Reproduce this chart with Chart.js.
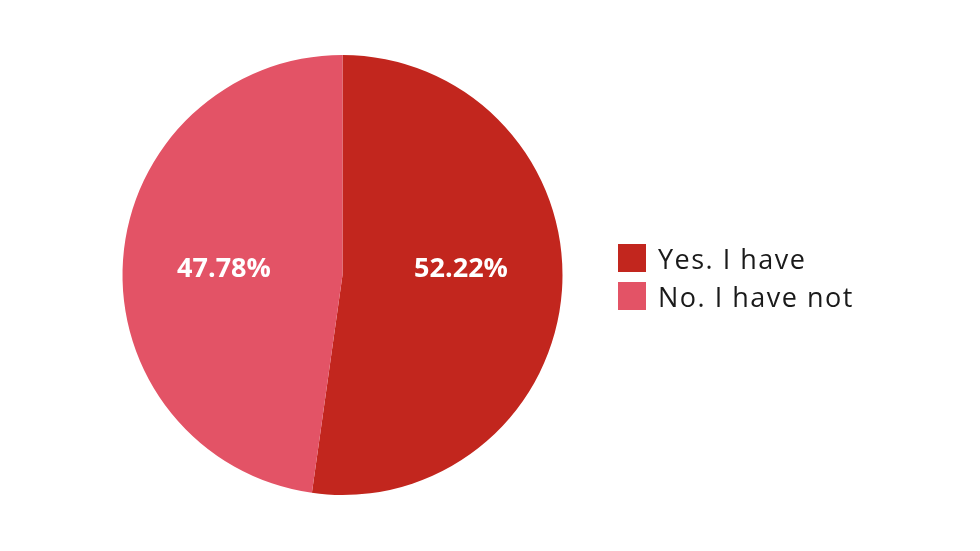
<!DOCTYPE html>
<html>
<head>
<meta charset="utf-8">
<script src="https://cdn.jsdelivr.net/npm/chart.js@4"></script>
<style>
  html, body { margin: 0; padding: 0; background: #fff; }
  #wrap { position: relative; width: 980px; height: 551px; }
  #legend { position: absolute; left: 618px; top: 244px; font-family: "Open Sans", sans-serif; font-size: 27px; color: #1a1a1a; letter-spacing: 1.5px; }
  .item { display: flex; align-items: center; height: 28px; margin-bottom: 10px; }
  .box { width: 28px; height: 28px; margin-right: 12px; }
</style>
</head>
<body>
<div id="wrap">
  <canvas id="pieChart" width="980" height="551"></canvas>
  <div id="legend"></div>
</div>
<script>
const labels = ["Yes. I have", "No. I have not"];
const values = [52.22, 47.78];
const colors = ["#c2261e", "#e35366"];

const sliceLabels = {
  id: "sliceLabels",
  afterDatasetsDraw(chart) {
    const ctx = chart.ctx;
    const meta = chart.getDatasetMeta(0);
    ctx.save();
    ctx.fillStyle = "#ffffff";
    ctx.font = "bold 27px 'Open Sans', sans-serif";
    ctx.textAlign = "center";
    ctx.textBaseline = "middle";
    meta.data.forEach((arc, i) => {
      const mid = (arc.startAngle + arc.endAngle) / 2;
      const r = arc.outerRadius * 0.54;
      const x = arc.x + Math.cos(mid) * r;
      const y = arc.y - 6;
      ctx.fillText(values[i].toFixed(2) + "%", x, y);
    });
    ctx.restore();
  }
};

const chart = new Chart(document.getElementById("pieChart"), {
  type: "pie",
  data: {
    labels,
    datasets: [{
      data: values,
      backgroundColor: colors,
      borderWidth: 0
    }]
  },
  options: {
    responsive: false,
    animation: false,
    layout: { padding: { left: 122, right: 417, top: 55, bottom: 56 } },
    plugins: {
      legend: { display: false },
      tooltip: { enabled: false }
    }
  },
  plugins: [sliceLabels]
});

const legendEl = document.getElementById("legend");
labels.forEach((label, i) => {
  const item = document.createElement("div");
  item.className = "item";
  const box = document.createElement("span");
  box.className = "box";
  box.style.background = colors[i];
  const text = document.createElement("span");
  text.textContent = label;
  item.appendChild(box);
  item.appendChild(text);
  legendEl.appendChild(item);
});
</script>
</body>
</html>
